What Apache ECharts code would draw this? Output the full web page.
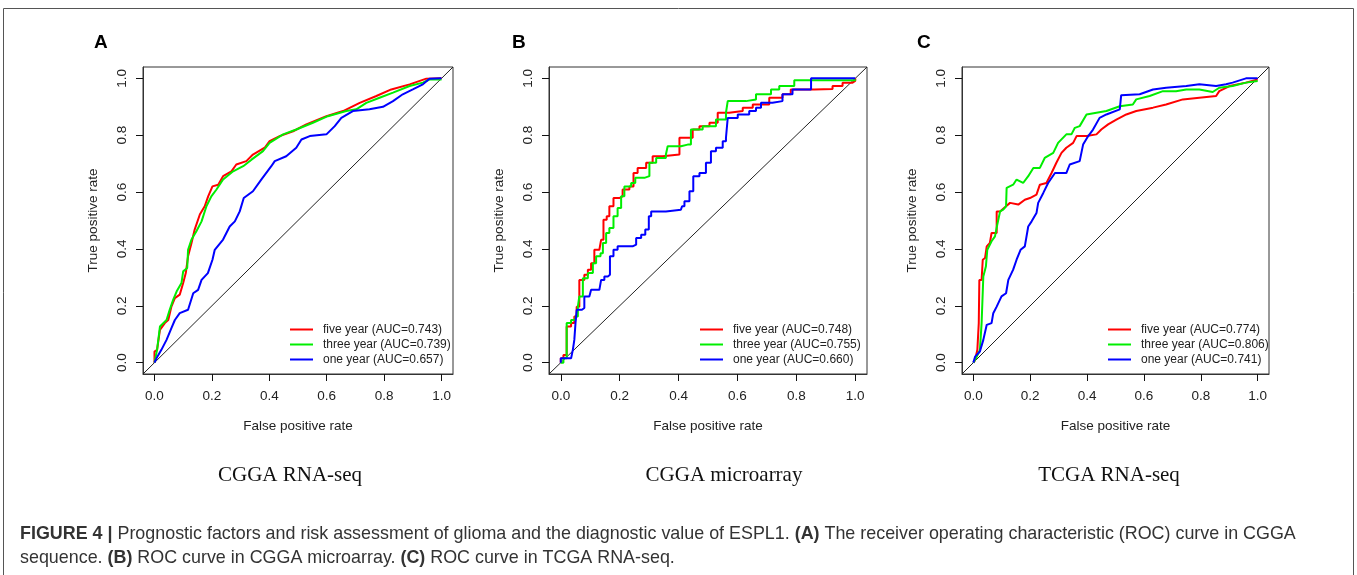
<!DOCTYPE html>
<html><head><meta charset="utf-8">
<script src="https://cdn.jsdelivr.net/npm/echarts@6/dist/echarts.min.js"></script>
<style>html,body{margin:0;padding:0;background:#fff}#c{width:1357px;height:575px}</style>
</head><body><div id="c"></div>
<script>
// ---- data ----
const tickValues = [0, 0.2, 0.4, 0.6, 0.8, 1.0];
const panelLetters = ['A', 'B', 'C'];
const panelSubtitles = ['CGGA RNA-seq', 'CGGA microarray', 'TCGA RNA-seq'];
const legendA = ['five year (AUC=0.743)', 'three year (AUC=0.739)', 'one year (AUC=0.657)'];
const legendB = ['five year (AUC=0.748)', 'three year (AUC=0.755)', 'one year (AUC=0.660)'];
const legendC = ['five year (AUC=0.774)', 'three year (AUC=0.806)', 'one year (AUC=0.741)'];
const diagonal = [[-0.04, -0.04], [1.04, 1.04]];

const aFive = [[0,0],[0,0.039],[0.009,0.045],[0.019,0.115],[0.036,0.139],[0.048,0.150],[0.059,0.197],[0.071,0.227],[0.088,0.239],[0.100,0.280],[0.109,0.315],[0.117,0.374],[0.129,0.421],[0.140,0.468],[0.158,0.521],[0.175,0.550],[0.187,0.585],[0.202,0.620],[0.222,0.626],[0.239,0.656],[0.268,0.673],[0.285,0.697],[0.320,0.709],[0.343,0.732],[0.384,0.756],[0.401,0.779],[0.436,0.797],[0.483,0.814],[0.529,0.838],[0.599,0.867],[0.657,0.885],[0.715,0.914],[0.773,0.938],[0.825,0.961],[0.889,0.979],[0.947,0.999],[1,1]];
const aThree = [[0,0],[0.009,0.045],[0.019,0.127],[0.042,0.150],[0.053,0.186],[0.065,0.221],[0.077,0.250],[0.094,0.280],[0.100,0.321],[0.114,0.333],[0.117,0.397],[0.129,0.433],[0.146,0.462],[0.164,0.497],[0.181,0.550],[0.198,0.585],[0.216,0.609],[0.239,0.644],[0.274,0.673],[0.309,0.691],[0.338,0.714],[0.378,0.744],[0.401,0.773],[0.448,0.803],[0.494,0.820],[0.552,0.844],[0.604,0.867],[0.668,0.885],[0.703,0.891],[0.738,0.914],[0.784,0.932],[0.831,0.950],[0.889,0.973],[0.935,0.985],[0.958,0.996],[1,0.996]];
const aOne = [[0,0],[0.007,0.015],[0.024,0.045],[0.042,0.080],[0.059,0.121],[0.071,0.150],[0.088,0.174],[0.117,0.186],[0.135,0.244],[0.152,0.256],[0.164,0.291],[0.186,0.315],[0.202,0.362],[0.210,0.397],[0.239,0.433],[0.262,0.479],[0.280,0.497],[0.297,0.532],[0.311,0.579],[0.343,0.603],[0.372,0.644],[0.407,0.691],[0.419,0.709],[0.459,0.726],[0.494,0.756],[0.512,0.785],[0.541,0.797],[0.599,0.803],[0.628,0.832],[0.651,0.861],[0.691,0.885],[0.749,0.891],[0.796,0.900],[0.831,0.920],[0.865,0.944],[0.900,0.961],[0.935,0.979],[0.958,0.999],[1,1]];

const bFive = [[0,0],[0,0.015],[0.009,0.027],[0.020,0.127],[0.035,0.139],[0.046,0.162],[0.054,0.197],[0.063,0.291],[0.080,0.309],[0.092,0.327],[0.103,0.350],[0.114,0.397],[0.131,0.397],[0.137,0.432],[0.145,0.503],[0.156,0.515],[0.165,0.550],[0.179,0.579],[0.199,0.585],[0.210,0.609],[0.233,0.620],[0.247,0.667],[0.261,0.685],[0.290,0.703],[0.312,0.726],[0.346,0.732],[0.403,0.732],[0.403,0.791],[0.437,0.791],[0.448,0.820],[0.471,0.832],[0.505,0.844],[0.533,0.879],[0.572,0.885],[0.618,0.897],[0.652,0.908],[0.708,0.932],[0.753,0.944],[0.781,0.961],[0.861,0.963],[0.923,0.973],[0.957,0.985],[0.991,0.991],[1,1]];
const bThree = [[0,0],[0.009,0.015],[0.020,0.139],[0.035,0.150],[0.050,0.162],[0.058,0.197],[0.063,0.233],[0.075,0.297],[0.092,0.315],[0.109,0.350],[0.120,0.374],[0.135,0.385],[0.143,0.421],[0.154,0.456],[0.165,0.474],[0.179,0.515],[0.193,0.544],[0.205,0.585],[0.216,0.620],[0.239,0.632],[0.253,0.650],[0.284,0.656],[0.301,0.703],[0.324,0.720],[0.357,0.732],[0.363,0.761],[0.397,0.761],[0.408,0.767],[0.431,0.767],[0.442,0.820],[0.482,0.832],[0.527,0.855],[0.561,0.879],[0.567,0.920],[0.629,0.926],[0.663,0.944],[0.714,0.961],[0.742,0.973],[0.793,0.993],[1,0.996]];
const bOne = [[0,0],[0,0.015],[0.035,0.015],[0.041,0.045],[0.046,0.080],[0.050,0.139],[0.054,0.186],[0.072,0.192],[0.080,0.233],[0.097,0.239],[0.103,0.256],[0.131,0.262],[0.137,0.291],[0.148,0.303],[0.160,0.309],[0.167,0.374],[0.179,0.397],[0.193,0.409],[0.244,0.415],[0.256,0.438],[0.273,0.450],[0.287,0.468],[0.299,0.515],[0.307,0.532],[0.357,0.538],[0.408,0.538],[0.412,0.550],[0.420,0.568],[0.437,0.603],[0.450,0.656],[0.471,0.667],[0.493,0.703],[0.510,0.744],[0.527,0.756],[0.550,0.779],[0.561,0.791],[0.567,0.861],[0.601,0.873],[0.640,0.885],[0.663,0.897],[0.680,0.914],[0.719,0.920],[0.753,0.944],[0.787,0.961],[0.850,0.967],[0.850,1.0],[1,1]];

const cFive = [[0,0],[0.006,0.009],[0.014,0.045],[0.019,0.139],[0.021,0.291],[0.029,0.291],[0.033,0.362],[0.041,0.368],[0.047,0.409],[0.058,0.421],[0.064,0.456],[0.082,0.456],[0.082,0.532],[0.094,0.532],[0.115,0.550],[0.129,0.562],[0.158,0.556],[0.181,0.573],[0.199,0.579],[0.222,0.591],[0.234,0.626],[0.257,0.632],[0.275,0.667],[0.292,0.703],[0.310,0.738],[0.327,0.756],[0.351,0.773],[0.363,0.797],[0.398,0.797],[0.433,0.803],[0.450,0.820],[0.474,0.838],[0.503,0.855],[0.538,0.873],[0.573,0.885],[0.632,0.897],[0.678,0.908],[0.737,0.926],[0.795,0.932],[0.854,0.938],[0.865,0.955],[0.901,0.973],[0.959,0.985],[1,0.996]];
const cThree = [[0,0],[0.012,0.021],[0.023,0.045],[0.029,0.139],[0.035,0.303],[0.044,0.338],[0.049,0.397],[0.064,0.427],[0.076,0.444],[0.084,0.485],[0.094,0.532],[0.105,0.538],[0.115,0.550],[0.117,0.615],[0.140,0.626],[0.152,0.644],[0.175,0.632],[0.193,0.656],[0.211,0.685],[0.234,0.685],[0.251,0.720],[0.281,0.738],[0.298,0.773],[0.327,0.803],[0.345,0.803],[0.357,0.826],[0.374,0.832],[0.398,0.873],[0.433,0.879],[0.468,0.885],[0.515,0.902],[0.561,0.908],[0.573,0.926],[0.620,0.938],[0.667,0.955],[0.713,0.955],[0.749,0.961],[0.795,0.961],[0.842,0.952],[0.865,0.967],[0.912,0.973],[0.959,0.985],[1,0.991]];
const cOne = [[0,0],[0.006,0.021],[0.023,0.039],[0.035,0.080],[0.047,0.133],[0.064,0.139],[0.070,0.174],[0.082,0.197],[0.099,0.233],[0.115,0.244],[0.123,0.291],[0.140,0.327],[0.152,0.362],[0.166,0.397],[0.181,0.409],[0.193,0.479],[0.205,0.497],[0.222,0.526],[0.228,0.562],[0.246,0.597],[0.263,0.632],[0.287,0.667],[0.327,0.667],[0.339,0.697],[0.374,0.709],[0.386,0.767],[0.404,0.797],[0.421,0.820],[0.444,0.861],[0.468,0.873],[0.515,0.891],[0.520,0.941],[0.585,0.944],[0.632,0.961],[0.678,0.967],[0.749,0.973],[0.795,0.979],[0.854,0.973],[0.889,0.979],[0.912,0.985],[0.959,1.0],[1,1]];

// ---- layout / style ----
const FONT = '"Liberation Sans", Arial, Helvetica, sans-serif';
const COLORS = ['#ff0000', '#00ee00', '#0000ff'];
const grids = [
  {left: 143, top: 67, width: 310, height: 307},
  {left: 549, top: 67, width: 318, height: 307},
  {left: 962, top: 67, width: 307, height: 307}
];
const legendPos = [{left: 290, top: 322}, {left: 700, top: 322}, {left: 1108, top: 322}];
const letterPos = [94, 512, 917];
const subtitleX = [290, 724, 1109];
const panelData = [[aFive, aThree, aOne], [bFive, bThree, bOne], [cFive, cThree, cOne]];
const panelLegends = [legendA, legendB, legendC];
const panelStep = [false, 'end', false];

const fmt = v => v.toFixed(1);
const option = {
  animation: false,
  backgroundColor: '#fff',
  grid: grids.map(g => Object.assign({show: true, borderColor: '#333', borderWidth: 1, backgroundColor: 'transparent'}, g)),
  xAxis: grids.map((g, i) => ({
    type: 'value', gridIndex: i, min: -0.04, max: 1.04,
    axisLine: {show: true, onZero: false, lineStyle: {color: '#333', width: 1}}, splitLine: {show: false},
    axisTick: {show: true, inside: false, length: 7, customValues: tickValues, lineStyle: {color: '#111', width: 1}},
    axisLabel: {customValues: tickValues, formatter: fmt, fontSize: 13.5, color: '#222', margin: 15, fontFamily: FONT},
    name: 'False positive rate', nameLocation: 'middle', nameGap: 45,
    nameTextStyle: {fontSize: 13.5, color: '#222', fontFamily: FONT}
  })),
  yAxis: grids.map((g, i) => ({
    type: 'value', gridIndex: i, min: -0.04, max: 1.04,
    axisLine: {show: true, onZero: false, lineStyle: {color: '#333', width: 1}}, splitLine: {show: false},
    axisTick: {show: true, inside: false, length: 7, customValues: tickValues, lineStyle: {color: '#111', width: 1}},
    axisLabel: {customValues: tickValues, formatter: fmt, fontSize: 13.5, color: '#222', margin: 14, rotate: 90, fontFamily: FONT},
    name: 'True positive rate', nameLocation: 'middle', nameGap: 43,
    nameTextStyle: {fontSize: 13.5, color: '#222', fontFamily: FONT}
  })),
  legend: panelLegends.map((names, i) => ({
    orient: 'vertical', left: legendPos[i].left, top: legendPos[i].top,
    itemWidth: 23, itemHeight: 2, icon: 'rect', itemGap: 0, padding: 0, selectedMode: false,
    textStyle: {fontSize: 12, lineHeight: 15, color: '#222', fontFamily: FONT, padding: [0, 0, 0, 5]},
    data: names
  })),
  title: [
    ...panelLetters.map((t, i) => ({text: t, left: letterPos[i], top: 33, padding: 0,
      textStyle: {fontSize: 19, fontWeight: 'bold', color: '#000', fontFamily: FONT}})),
    ...panelSubtitles.map((t, i) => ({text: t, left: subtitleX[i], top: 465, padding: 0, textAlign: 'center',
      textStyle: {fontSize: 21, fontWeight: 'normal', color: '#111', fontFamily: '"Liberation Serif", "Times New Roman", serif'}})),
    {
      left: 20, top: 522, padding: 0,
      text: '{b|FIGURE 4 |} {n|Prognostic factors and risk assessment of glioma and the diagnostic value of ESPL1.} {b|(A)} {n|The receiver operating characteristic (ROC) curve in CGGA}\n{n|sequence.} {b|(B)} {n|ROC curve in CGGA microarray.} {b|(C)} {n|ROC curve in TCGA RNA-seq.}',
      textStyle: {
        fontSize: 17.9, lineHeight: 24, color: '#333', fontFamily: FONT,
        rich: {
          b: {fontSize: 17.9, lineHeight: 24, fontWeight: 'bold', color: '#333', fontFamily: FONT},
          n: {fontSize: 17.9, lineHeight: 24, fontWeight: 'normal', color: '#333', fontFamily: FONT}
        }
      }
    }
  ],
  graphic: [{type: 'rect', silent: true, shape: {x: 3.5, y: 8.5, width: 1350, height: 620},
    style: {fill: null, stroke: '#555', lineWidth: 1}}],
  series: []
};

panelData.forEach((curves, i) => {
  option.series.push({type: 'line', xAxisIndex: i, yAxisIndex: i, data: diagonal, showSymbol: false, symbol: 'none',
    lineStyle: {color: '#222', width: 1}, silent: true, z: 1});
  curves.forEach((d, k) => {
    option.series.push({type: 'line', name: panelLegends[i][k], xAxisIndex: i, yAxisIndex: i, data: d,
      step: panelStep[i], showSymbol: false, symbol: 'none', color: COLORS[k],
      lineStyle: {color: COLORS[k], width: 2}, z: 2});
  });
});

const chart = echarts.init(document.getElementById('c'), null, {renderer: 'canvas'});
chart.setOption(option);
</script>
</body></html>
